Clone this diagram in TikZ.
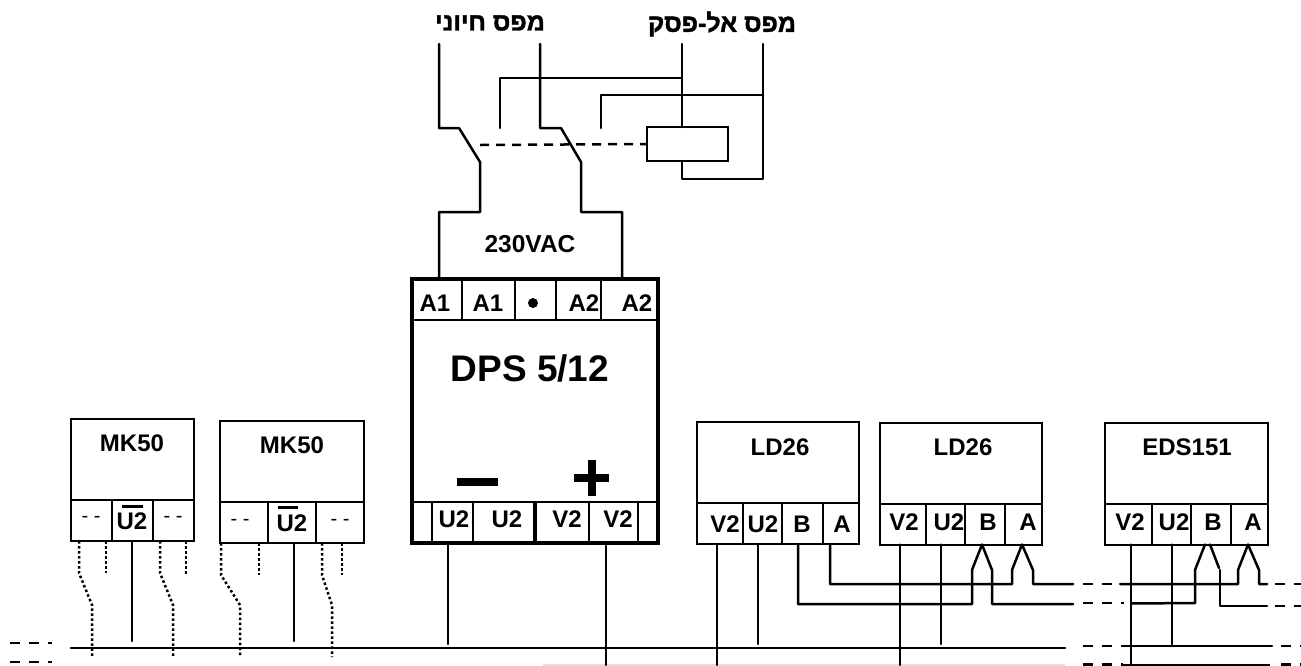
\documentclass[tikz,border=0pt]{standalone}
\usepackage{fontspec}
\setmainfont{Liberation Sans}
\newfontfamily\hebfont[Script=Hebrew,FakeBold=1.5]{Liberation Sans Bold}
\TeXXeTstate=1
\usetikzlibrary{calc}

\begin{document}
\begin{tikzpicture}[x=1pt, y=-1pt,
            wire/.style={line width=2.5pt, line cap=round, line join=round},
            stub/.style={line width=2.5pt, dash pattern=on 10pt off 9pt},
            dots/.style={line width=2.5pt, dash pattern=on 2.5pt off 2.5pt},
            body/.style={draw, line width=2pt, outer sep=0pt, inner sep=0pt, minimum height=81pt},
            cell/.style={draw, line width=2pt, outer sep=0pt, inner sep=0pt, minimum height=41pt},
            tag/.style={inner sep=0pt, font=\fontsize{24}{28}\selectfont\bfseries},
            blank/.style={inner sep=0pt, font=\fontsize{20}{24}\selectfont},
            sign/.style={inner sep=0pt, font=\fontsize{25}{30}\selectfont\hebfont},
            bar/.style={line width=3pt}
        ]
        \useasboundingbox (0,0) rectangle (1301,665);

        \node[sign] (vital) at (490,23) {\beginR מפס חיוני\endR};
        \node[sign] (nobreak) at (722,24) {\beginR מפס אל-פסק\endR};

        \coordinate (feeda) at (439,44);
        \coordinate (feedb) at (540,44);
        \coordinate (feedc) at (682,44);
        \coordinate (feedd) at (763,44);
        \node[draw, line width=2.5pt, outer sep=0pt, minimum width=81pt, minimum height=34pt] (coil) at (687.5,144) {};
        \draw[wire] (feedc) -- (coil.north -| feedc);
        \draw[wire] (feedd) -- (763,179) -- (682,179) -- (coil.south -| feedc);
        \draw[wire] (682,78) -- (500,78) -- (500,128);
        \draw[wire] (763,95) -- (601,95) -- (601,128);
        \draw[line width=2.5pt, dash pattern=on 9pt off 7pt] (480,145) -- (coil.west);

        \node[cell, minimum width=50pt] (dpsaa) at (437,299.5) {};
        \node[cell, minimum width=53pt] (dpsab) at (488.5,299.5) {};
        \node[cell, minimum width=41pt] (dpsac) at (535.5,299.5) {};
        \node[cell, minimum width=45pt] (dpsad) at (578.5,299.5) {};
        \node[cell, minimum width=57pt] (dpsae) at (629.5,299.5) {};
        \node[tag] (dpsaat) at (435,303) {A1};
        \node[tag] (dpsabt) at (488,303) {A1};
        \node[circle, fill=black, inner sep=0pt, minimum size=10pt] (dpsdot) at (533,303) {};
        \node[tag] (dpsadt) at (584,303) {A2};
        \node[tag] (dpsaet) at (637,303) {A2};
        \node[cell, minimum width=20pt] (dpsua) at (422,522.5) {};
        \node[cell, minimum width=41pt] (dpsub) at (452.5,522.5) {};
        \node[cell, minimum width=62pt] (dpsuc) at (504,522.5) {};
        \node[cell, minimum width=54pt] (dpsvc) at (562,522.5) {};
        \node[cell, minimum width=49pt] (dpsvb) at (613.5,522.5) {};
        \node[cell, minimum width=20pt] (dpsva) at (648,522.5) {};
        \node[tag] (dpsubt) at (454,519) {U2};
        \node[tag] (dpsuct) at (507,519) {U2};
        \node[tag] (dpsvct) at (567,519) {V2};
        \node[tag] (dpsvbt) at (618,519) {V2};
        \draw[line width=4.5pt] (dpsuc.north east) -- (dpsuc.south east);
        \node[draw, line width=4pt, outer sep=0pt, minimum width=246pt, minimum height=264pt] (dps) at (535,411) {};
        \node[inner sep=0pt, font=\fontsize{37}{42}\selectfont\bfseries] (dpsname) at (530,368) {DPS 5/12};
        \node[fill=black, inner sep=0pt, minimum width=41pt, minimum height=8pt] (minus) at (477.5,482) {};
        \node[fill=black, inner sep=0pt, minimum width=35pt, minimum height=8pt] (plush) at (591.5,477.5) {};
        \node[fill=black, inner sep=0pt, minimum width=8pt, minimum height=36pt] (plusv) at (591.5,478) {};

        \draw[wire] (feeda) -- (439,128) -- (459,128) -- (480,162) -- (480,212) -- (439,212) -- ($(dpsaa.north)+(2,0)$);
        \draw[wire] (feedb) -- (540,128) -- (561,128) -- (581,162) -- (581,212) -- (622,212) -- ($(dpsae.north)+(-7.5,0)$);
        \node[inner sep=0pt, font=\fontsize{24.5}{28}\selectfont\bfseries] (mains) at (530,244) {230VAC};

        \node[body, minimum width=123pt] (mka) at (132.5,459.5) {};
        \node[tag] (mkaname) at (132,443) {MK50};
        \node[cell, minimum width=41pt] (mkaa) at (91.5,520.5) {};
        \node[cell, minimum width=41pt] (mkab) at (132.5,520.5) {};
        \node[cell, minimum width=41pt] (mkac) at (173.5,520.5) {};
        \node[blank] (mkaat) at (91,519) {- -};
        \node[tag] (mkabt) at (132,521) {U2};
        \node[blank] (mkact) at (173,519) {- -};
        \draw[bar] ($(mkab.center)+(-10.5,-14.5)$) -- ($(mkab.center)+(10.5,-14.5)$);

        \node[body, minimum width=144pt] (mkb) at (292,461.5) {};
        \node[tag] (mkbname) at (292,445) {MK50};
        \node[cell, minimum width=48pt] (mkba) at (244,522.5) {};
        \node[cell, minimum width=48pt] (mkbb) at (292,522.5) {};
        \node[cell, minimum width=48pt] (mkbc) at (340,522.5) {};
        \node[blank] (mkbat) at (240,522) {- -};
        \node[tag] (mkbbt) at (292,523) {U2};
        \node[blank] (mkbct) at (340,522) {- -};
        \draw[bar] ($(mkbb.center)+(-14,-15.5)$) -- ($(mkbb.center)+(6,-15.5)$);

        \node[body, minimum width=162pt] (lda) at (778,462.5) {};
        \node[tag] (ldaname) at (780,447) {LD26};
        \node[cell, minimum width=46pt] (ldav) at (720,523.5) {};
        \node[cell, minimum width=39pt] (ldau) at (762.5,523.5) {};
        \node[cell, minimum width=41pt] (ldab) at (802.5,523.5) {};
        \node[cell, minimum width=36pt] (ldaa) at (841,523.5) {};
        \node[tag] (ldavt) at (725,524) {V2};
        \node[tag] (ldaut) at (763,524) {U2};
        \node[tag] (ldabt) at (802,524) {B};
        \node[tag] (ldaat) at (842,524) {A};

        \node[body, minimum width=162pt] (ldb) at (961,463.5) {};
        \node[tag] (ldbname) at (963,447) {LD26};
        \node[cell, minimum width=46pt] (ldbv) at (903,524) {};
        \node[cell, minimum width=39pt] (ldbu) at (945.5,524) {};
        \node[cell, minimum width=40pt] (ldbb) at (985,524) {};
        \node[cell, minimum width=37pt] (ldba) at (1023.5,524) {};
        \node[tag] (ldbvt) at (904,522) {V2};
        \node[tag] (ldbut) at (949,522) {U2};
        \node[tag] (ldbbt) at (988,522) {B};
        \node[tag] (ldbat) at (1028,522) {A};

        \node[body, minimum width=163pt] (eds) at (1186.5,463.5) {};
        \node[tag] (edsname) at (1187,447) {EDS151};
        \node[cell, minimum width=47pt] (edsv) at (1128.5,524) {};
        \node[cell, minimum width=39pt] (edsu) at (1171.5,524) {};
        \node[cell, minimum width=40pt] (edsb) at (1211,524) {};
        \node[cell, minimum width=37pt] (edsa) at (1249.5,524) {};
        \node[tag] (edsvt) at (1130,522) {V2};
        \node[tag] (edsut) at (1174,522) {U2};
        \node[tag] (edsbt) at (1213,522) {B};
        \node[tag] (edsat) at (1253,522) {A};

        \coordinate (busa) at (71,648);
        \coordinate (busb) at (1065,648);
        \coordinate (busc) at (1128,646);
        \coordinate (busd) at (1272,646);
        \coordinate (lowa) at (543,664.5);
        \coordinate (lowb) at (1065,664.5);
        \coordinate (lowc) at (1123,664.5);
        \coordinate (lowd) at (1270,664.5);
        \draw[wire] (busa) -- (busb);
        \draw[wire] (busc) -- (busd);
        \draw[line width=2pt, black!12] (lowa) -- (lowb);
        \draw[line width=2pt] (lowc) -- (lowd);
        \draw[stub] (10,643) -- (52,643);
        \draw[stub] (10,662) -- (52,662);
        \draw[stub] (1083,646) -- (busc);
        \draw[stub] (1083,664.5) -- (lowc);
        \draw[stub] (1281,646) -- (1301,646);
        \draw[stub] (1281,664.5) -- (1301,664.5);

        \draw[wire] ($(dpsub.south)+(-4.5,0)$) -- (448,644);
        \draw[wire] ($(dpsvb.south)+(-7.5,3)$) -- (606,665);
        \draw[wire] ($(mkab.south)+(-.5,0)$) -- (132,641);
        \draw[wire] ($(mkbb.south)+(2,0)$) -- (294,641);
        \draw[wire] ($(ldav.south)+(-3,0)$) -- (717,665);
        \draw[wire] ($(ldau.south)+(-4.5,0)$) -- (758,644);
        \draw[wire] ($(ldbv.south)+(-3,0)$) -- (900,665);
        \draw[wire] ($(ldbu.south)+(-4.5,0)$) -- (941,644);
        \draw[wire] ($(edsv.south)+(2.5,0)$) -- (1131,665);
        \draw[wire] ($(edsu.south)+(.5,0)$) -- (1172,646);

        \draw[wire] ($(ldab.south)+(-4.5,0)$) -- (798,604) -- (972,604) -- (972,570) -- ($(ldbb.south)+(-3,0)$) -- (992,570) -- (992,604) -- (1073,604);
        \draw[wire] ($(ldaa.south)+(-11,0)$) -- (830,584) -- (1012,584) -- (1012,570) -- ($(ldba.south)+(-1.5,0)$) -- (1033,570) -- (1033,584) -- (1073,584);
        \draw[stub] (1083,584) -- (1120,584);
        \draw[stub] (1083,603) -- (1124,603);
        \draw[wire] (1120,584) -- (1238,584) -- (1238,570) -- ($(edsa.south)+(-1.5,0)$) -- (1259,570) -- (1259,584) -- (1267,584);
        \draw[wire] ($(edsv.south)+(2.5,59)$) -- (1195,603) -- (1195,570) -- ($(edsb.south)+(-6,0)$);
        \draw[wire] ($(edsb.south)+(-1,0)$) -- (1219,568);
        \draw[wire] (1220,570) -- (1220,606) -- (1267,606);
        \draw[stub] (1275,584) -- (1301,584);
        \draw[stub] (1275,606) -- (1301,606);

        \draw[dots] ($(mkaa.south)+(-12.5,0)$) -- (79,573) -- (92,605) -- (92,657);
        \draw[dots] ($(mkaa.south)+(14.5,0)$) -- (106,573);
        \draw[dots] ($(mkac.south)+(-13.5,0)$) -- (160,573) -- (173,605) -- (173,657);
        \draw[dots] ($(mkac.south)+(12.5,0)$) -- (186,575);
        \draw[dots] ($(mkba.south)+(-23,0)$) -- (221,575) -- (240,605) -- (240,657);
        \draw[dots] ($(mkba.south)+(15,0)$) -- (259,575);
        \draw[dots] ($(mkbc.south)+(-18,0)$) -- (322,575) -- (332,605) -- (332,657);
        \draw[dots] ($(mkbc.south)+(2,0)$) -- (342,575);
    \end{tikzpicture}
\end{document}
